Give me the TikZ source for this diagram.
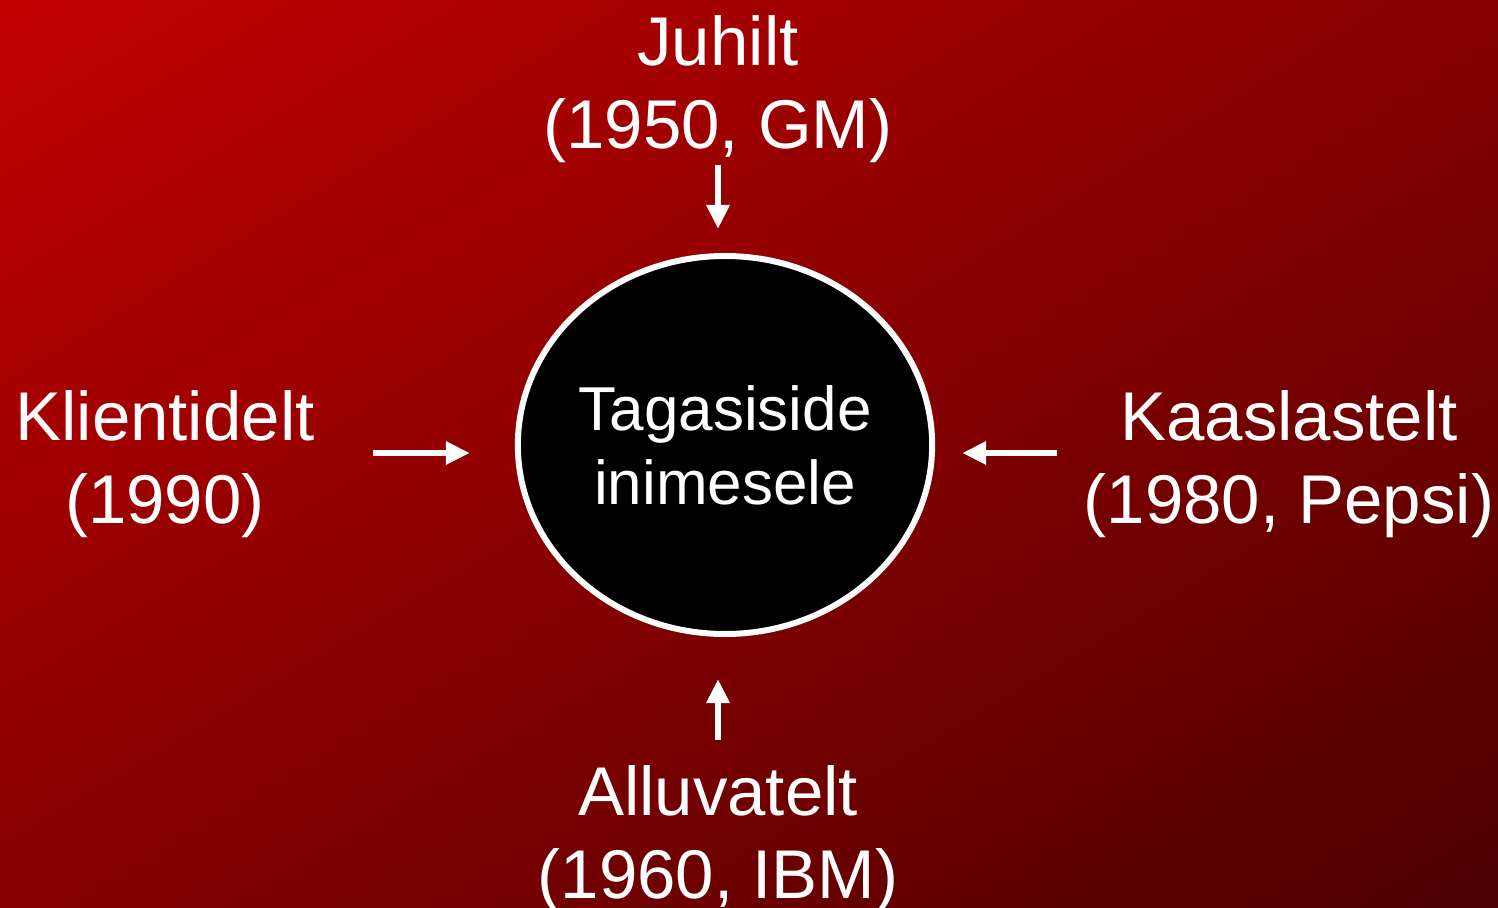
\documentclass[tikz,border=0pt]{standalone}
\usepackage{fontspec}
\setmainfont{Liberation Sans}
\usetikzlibrary{shapes.geometric,shadings,arrows.meta,positioning}

\definecolor{bgtl}{HTML}{C20000}
\definecolor{bgmid}{HTML}{860000}
\definecolor{bgbr}{HTML}{4C0000}

\begin{document}
\begin{tikzpicture}[%
      x=0.5pt,y=-0.5pt,           % one unit = one pixel of the slide
      >={Triangle[length=12pt,width=11pt]},
      font=\fontsize{34.5}{41.5}\selectfont
      ]
  \tikzset{
   lbl/.style={text=white,align=center,inner sep=0pt},
   hub/.style={draw=white,fill=black,line width=3pt,ellipse,inner sep=0pt,
     minimum width=204pt,minimum height=189pt,text=white,align=center,
     font=\fontsize{31}{37}\selectfont},
   arr/.style={->,white,line width=3pt}}
 \useasboundingbox (0,0) rectangle (1498,908);
 \shade[upper left=bgtl,upper right=bgmid,lower left=bgmid,lower right=bgbr]
   (0,0) rectangle (1498,908);

 \node [hub] (circ) at (725,445) {Tagasiside\\inimesele};

 \node [lbl] (juhilt) at (718,89)  {Juhilt\\(1950, GM)};
 \node [lbl] (klient) at (165,464) {Klientidelt\\(1990)};
 \node [lbl] (kaasl)  at (1289,464) {Kaaslastelt\\(1980, Pepsi)};
 \node [lbl] (alluv)  at (718,839) {Alluvatelt\\(1960, IBM)};

 \draw[arr,shorten <=1pt,shorten >=12pt] (juhilt.south) -- (juhilt.south |- circ.north);
 \draw[arr,shorten <=12.5pt,shorten >=21pt] (alluv.north) -- (alluv.north |- circ.south);
 \draw[arr,shorten <=29pt,shorten >=22.5pt] ([yshift=5.5pt]klient.east) -- ([yshift=5.5pt]klient.east -| circ.west);
 \draw[arr,shorten <=13pt,shorten >=13.5pt] ([yshift=5.5pt]kaasl.west) -- ([yshift=5.5pt]kaasl.west -| circ.east);
\end{tikzpicture}
\end{document}
